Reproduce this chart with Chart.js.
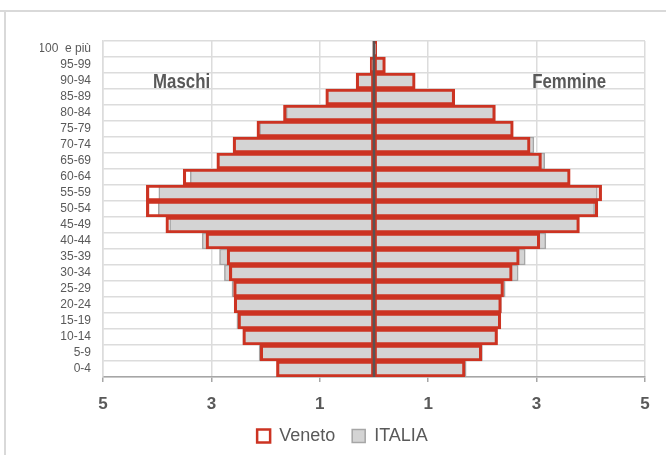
<!DOCTYPE html>
<html lang="it">
<head>
  <meta charset="UTF-8">
  <title>Piramide delle età</title>
  <script src="https://cdn.jsdelivr.net/npm/chart.js"></script>
  <style>
    html, body { margin: 0; padding: 0; background: #fff; }
    .wrap { width: 666px; height: 455px; position: relative; }
  </style>
</head>
<body>
  <div class="wrap"><canvas id="pyramid"></canvas></div>

  <script>
    const ageGroups = ['100  e più', '95-99', '90-94', '85-89', '80-84', '75-79', '70-74', '65-69',
      '60-64', '55-59', '50-54', '45-49', '40-44', '35-39', '30-34', '25-29', '20-24',
      '15-19', '10-14', '5-9', '0-4'];

    // percentuali sul totale della popolazione
    const venetoMaschi = [0.02, 0.07, 0.33, 0.89, 1.67, 2.16, 2.60, 2.90, 3.52, 4.20, 4.20,
      3.84, 3.10, 2.71, 2.67, 2.59, 2.58, 2.51, 2.42, 2.10, 1.80];
    const italiaMaschi = [0.02, 0.06, 0.30, 0.88, 1.62, 2.11, 2.60, 2.89, 3.39, 3.97, 3.98,
      3.77, 3.17, 2.85, 2.76, 2.62, 2.57, 2.53, 2.42, 2.12, 1.78];
    const venetoFemmine = [0.05, 0.21, 0.76, 1.49, 2.24, 2.57, 2.88, 3.09, 3.62, 4.20, 4.13,
      3.79, 3.06, 2.68, 2.55, 2.39, 2.35, 2.34, 2.28, 1.99, 1.68];
    const italiaFemmine = [0.04, 0.20, 0.74, 1.48, 2.21, 2.55, 2.95, 3.15, 3.60, 4.12, 4.07,
      3.78, 3.17, 2.79, 2.66, 2.42, 2.35, 2.33, 2.26, 2.00, 1.70];

    const xTicks = [-5, -3, -1, 1, 3, 5];

    const sans = "'Liberation Sans', Arial, sans-serif";
    const red = '#cc3322';
    const grey = '#d4d4d4';
    const greyLine = '#a6a6a6';
    const textCol = '#595959';

    const neg = arr => arr.map(v => -v);

    // testo "stretto" come Arial Narrow (non installato)
    function narrowText(c, txt, x, y) {
      c.save();
      c.translate(x, y);
      c.scale(0.8, 1);
      c.fillText(txt, 0, 0);
      c.restore();
    }

    const extras = {
      id: 'extras',
      beforeDraw(chart) {
        const c = chart.ctx;
        c.save();
        c.strokeStyle = '#d9d9d9';
        c.lineWidth = 2;
        c.beginPath();
        c.moveTo(0, 11); c.lineTo(666, 11);
        c.moveTo(5, 11); c.lineTo(5, 455);
        c.stroke();
        c.restore();
      },
      afterDatasetsDraw(chart) {
        const c = chart.ctx;
        const x = chart.scales.x;
        const y = chart.scales.y;
        const a = chart.chartArea;
        c.save();
        c.strokeStyle = '#5a5454';
        c.lineWidth = 2.5;
        c.beginPath();
        c.moveTo(x.getPixelForValue(0), a.top);
        c.lineTo(x.getPixelForValue(0), a.bottom);
        c.stroke();
        c.fillStyle = textCol;
        c.font = 'bold 21px ' + sans;
        c.textAlign = 'center';
        c.textBaseline = 'middle';
        narrowText(c, 'Maschi', x.getPixelForValue(-3.55), y.getPixelForValue(2) + 1);
        narrowText(c, 'Femmine', x.getPixelForValue(3.6), y.getPixelForValue(2) + 1);
        c.restore();
      }
    };

    const barBase = {
      grouped: false,
      barPercentage: 1,
      categoryPercentage: 1,
      borderSkipped: false
    };

    new Chart(document.getElementById('pyramid'), {
      type: 'bar',
      data: {
        labels: ageGroups,
        datasets: [
          { ...barBase, label: 'Veneto', data: neg(venetoMaschi), order: 0,
            backgroundColor: 'rgba(255,255,255,0)', borderColor: red, borderWidth: 2.5 },
          { ...barBase, label: 'Veneto F', data: venetoFemmine, order: 0,
            backgroundColor: 'rgba(255,255,255,0)', borderColor: red, borderWidth: 2.5 },
          { ...barBase, label: 'ITALIA', data: neg(italiaMaschi), order: 1,
            backgroundColor: grey, borderColor: greyLine, borderWidth: 1.5 },
          { ...barBase, label: 'ITALIA F', data: italiaFemmine, order: 1,
            backgroundColor: grey, borderColor: greyLine, borderWidth: 1.5 }
        ]
      },
      options: {
        indexAxis: 'y',
        responsive: true,
        maintainAspectRatio: false,
        animation: false,
        layout: { padding: { top: 41, right: 21, left: 40, bottom: 0 } },
        scales: {
          x: {
            min: -5,
            max: 5,
            afterBuildTicks: s => { s.ticks = xTicks.map(v => ({ value: v })); },
            afterFit: s => { s.height = 33; },
            grid: { color: '#dcdcdc', lineWidth: 1.5, tickLength: 5, tickColor: greyLine },
            border: { color: greyLine, width: 1.5 },
            ticks: {
              callback: v => Math.abs(v),
              color: textCol,
              padding: 12,
              font: { family: sans, size: 17, weight: 'bold' }
            }
          },
          y: {
            afterFit: s => { s.width = 63; },
            grid: { color: '#dcdcdc', lineWidth: 1.5, drawTicks: false, tickLength: 0 },
            border: { color: '#dcdcdc', width: 1.5 },
            ticks: {
              color: textCol,
              padding: 12,
              autoSkip: false,
              font: { family: sans, size: 12 }
            }
          }
        },
        plugins: {
          legend: {
            position: 'bottom',
            labels: {
              filter: item => item.datasetIndex % 2 === 0,
              color: textCol,
              boxWidth: 13,
              boxHeight: 13,
              padding: 17,
              font: { family: sans, size: 18 }
            }
          },
          tooltip: { enabled: false }
        }
      },
      plugins: [extras]
    });
  </script>
</body>
</html>
